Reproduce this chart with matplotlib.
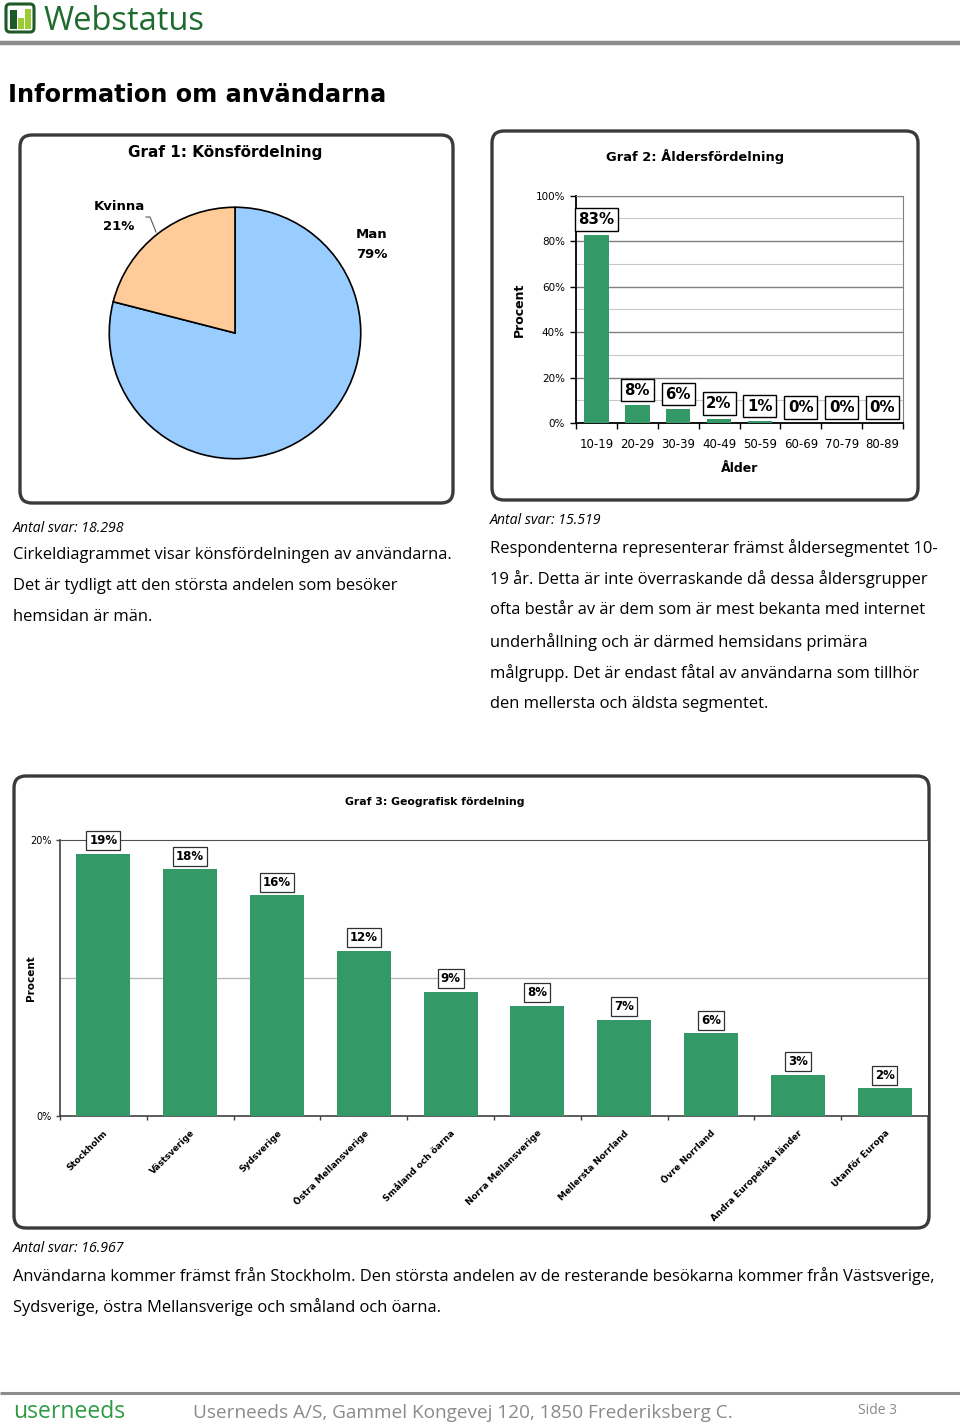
import matplotlib
matplotlib.use("Agg")
import matplotlib.pyplot as plt
from matplotlib.patches import FancyBboxPatch, Rectangle
import numpy as np

# ---------------- data ----------------
gender_labels = ["Man", "Kvinna"]
gender_values = [79, 21]

age_labels = ["10-19", "20-29", "30-39", "40-49", "50-59", "60-69", "70-79", "80-89"]
age_values = [82.8, 7.7, 6.0, 1.9, 0.7, 0.0, 0.0, 0.0]
age_yticks = [0, 20, 40, 60, 80, 100]

region_labels = ["Stockholm", "Västsverige", "Sydsverige", "Östra Mellansverige",
                 "Småland och öarna", "Norra Mellansverige", "Mellersta Norrland",
                 "Övre Norrland", "Andra Europeiska länder", "Utanför Europa"]
region_values = [19.0, 17.9, 16.0, 12.0, 9.0, 8.0, 7.0, 6.0, 3.0, 2.0]
region_yticks = [0, 20]

W, H = 960, 1427
BAR_GREEN = "#339966"
FONT = "Open Sans"

fig = plt.figure(figsize=(W / 100, H / 100), dpi=100)
fig.patch.set_facecolor("white")

bg = fig.add_axes([0, 0, 1, 1])
bg.set_xlim(0, W)
bg.set_ylim(H, 0)
bg.axis("off")


def px_axes(x, y, w, h):
    return fig.add_axes([x / W, 1 - (y + h) / H, w / W, h / H])


def rbox(x, y, w, h):
    bg.add_patch(FancyBboxPatch((x, y), w, h, boxstyle="round,pad=0,rounding_size=12",
                                fc="white", ec="#3a3a3a", lw=2.4))


# ---------------- header ----------------
bg.add_patch(FancyBboxPatch((6, 4), 28, 28, boxstyle="round,pad=0,rounding_size=4",
                            fc="white", ec="#1e5a28", lw=2.2))
bg.add_patch(Rectangle((10, 10), 7, 19, fc="#1e5a28", ec="none"))
bg.add_patch(Rectangle((18, 18), 6, 11, fc="#9acd32", ec="none"))
bg.add_patch(Rectangle((25, 9), 6, 20, fc="#9acd32", ec="none"))
bg.text(44, 21, "Webstatus", fontsize=23.5, color="#1e6b2e", family=FONT,
        va="center", ha="left")
bg.plot([0, W], [42.5, 42.5], color="#8c8c8c", lw=3.2, solid_capstyle="butt")

bg.text(8, 95, "Information om användarna", fontsize=17.3, fontweight="bold",
        family="DejaVu Sans", va="center", ha="left", color="black")

# ---------------- box 1: pie ----------------
rbox(20, 135, 433, 368)
bg.text(225, 152, "Graf 1: Könsfördelning", fontsize=11, fontweight="bold",
        family="DejaVu Sans", va="center", ha="center")

pie_ax = px_axes(235 - 127, 333 - 127, 254, 254)
pie_ax.pie(gender_values, colors=["#99ccff", "#ffcc99"], startangle=90,
           counterclock=False, wedgeprops=dict(edgecolor="black", linewidth=1.2))
pie_ax.set_xlim(-1.01, 1.01)
pie_ax.set_ylim(-1.01, 1.01)
pie_ax.set_aspect("equal")

bg.text(119, 207, gender_labels[1], fontsize=9.5, fontweight="bold", family="DejaVu Sans",
        ha="center", va="center")
bg.text(119, 227, f"{gender_values[1]}%", fontsize=9.5, fontweight="bold", family="DejaVu Sans",
        ha="center", va="center")
bg.plot([146, 150, 156], [217, 217, 232], color="#555555", lw=0.8)
bg.text(356, 235, gender_labels[0], fontsize=9.5, fontweight="bold", family="DejaVu Sans",
        ha="left", va="center")
bg.text(356, 255, f"{gender_values[0]}%", fontsize=9.5, fontweight="bold", family="DejaVu Sans",
        ha="left", va="center")

# ---------------- box 2: age ----------------
rbox(492, 131, 426, 369)
bg.text(695, 157, "Graf 2: Åldersfördelning", fontsize=9.4, fontweight="bold",
        family="DejaVu Sans", va="center", ha="center")

ax2 = px_axes(576, 195.7, 327, 227.3)
xa = np.arange(len(age_labels))
ax2.bar(xa, age_values, width=0.6, color=BAR_GREEN, zorder=3)
ax2.set_xlim(-0.5, len(age_labels) - 0.5)
ax2.set_ylim(0, 100)
ax2.set_yticks(age_yticks)
ax2.set_yticklabels([f"{v}%" for v in age_yticks], fontsize=7.5, family="DejaVu Sans")
ax2.set_yticks(np.arange(10, 100, 20), minor=True)
ax2.yaxis.grid(True, which="major", color="#808080", lw=1.0, zorder=0)
ax2.yaxis.grid(True, which="minor", color="#c8c8c8", lw=0.8, zorder=0)
ax2.set_xticks(np.arange(-0.5, len(age_labels), 1.0))
ax2.set_xticklabels([])
ax2.set_xticks(xa, minor=True)
ax2.set_xticklabels(age_labels, minor=True, fontsize=8.5, family="DejaVu Sans")
ax2.tick_params(axis="x", which="minor", length=0, pad=11)
ax2.tick_params(axis="x", which="major", length=4, width=1)
ax2.tick_params(axis="y", which="major", length=4, width=1, pad=4)
ax2.tick_params(axis="y", which="minor", length=0)
for s in ["top", "right"]:
    ax2.spines[s].set_color("#808080")
for s in ["left", "bottom"]:
    ax2.spines[s].set_color("black")
    ax2.spines[s].set_linewidth(1.3)
ax2.set_ylabel("Procent", fontsize=9, fontweight="bold", family="DejaVu Sans", labelpad=7)
ax2.set_xlabel("Ålder", fontsize=9, fontweight="bold", family="DejaVu Sans", labelpad=8)
for xi, v in zip(xa, age_values):
    ax2.annotate(f"{round(v)}%", (xi, v), xytext=(0, 11), textcoords="offset points",
                 ha="center", va="center", fontsize=10.8, fontweight="bold",
                 family="DejaVu Sans", zorder=5, annotation_clip=False,
                 bbox=dict(boxstyle="square,pad=0.25", fc="white", ec="black", lw=1.0))

# ---------------- texts under boxes 1 and 2 ----------------
bg.text(13, 528, "Antal svar: 18.298", fontsize=10.2, style="italic", family=FONT, va="center")
left_lines = ["Cirkeldiagrammet visar könsfördelningen av användarna.",
              "Det är tydligt att den största andelen som besöker",
              "hemsidan är män."]
for i, line in enumerate(left_lines):
    bg.text(13, 555 + 31 * i, line, fontsize=11.85, family=FONT, va="center")

bg.text(490, 521, "Antal svar: 15.519", fontsize=10.2, style="italic", family=FONT, va="center")
right_lines = ["Respondenterna representerar främst åldersegmentet 10-",
               "19 år. Detta är inte överraskande då dessa åldersgrupper",
               "ofta består av är dem som är mest bekanta med internet",
               "underhållning och är därmed hemsidans primära",
               "målgrupp. Det är endast fåtal av användarna som tillhör",
               "den mellersta och äldsta segmentet."]
for i, line in enumerate(right_lines):
    bg.text(490, 548 + 31.2 * i, line, fontsize=11.85, family=FONT, va="center")

# ---------------- box 3: regions ----------------
rbox(14, 776, 915, 452)
bg.text(435, 802, "Graf 3: Geografisk fördelning", fontsize=7.8, fontweight="bold",
        family="DejaVu Sans", va="center", ha="center")

ax3 = px_axes(60, 840.3, 868, 275.7)
xr = np.arange(len(region_labels))
ax3.bar(xr, region_values, width=0.62, color=BAR_GREEN, zorder=3)
ax3.set_xlim(-0.5, len(region_labels) - 0.5)
ax3.set_ylim(0, 20)
ax3.set_yticks(region_yticks)
ax3.set_yticklabels([f"{v}%" for v in region_yticks], fontsize=7, family="DejaVu Sans")
ax3.set_yticks([10], minor=True)
ax3.yaxis.grid(True, which="minor", color="#b8b8b8", lw=1.0, zorder=0)
ax3.set_xticks(np.arange(-0.5, len(region_labels), 1.0))
ax3.set_xticklabels([])
ax3.set_xticks(xr, minor=True)
ax3.set_xticklabels(region_labels, minor=True, fontsize=6.4, fontweight="bold",
                    family="DejaVu Sans", rotation=45, ha="right", va="top",
                    rotation_mode="anchor")
ax3.tick_params(axis="x", which="minor", length=0, pad=9)
ax3.tick_params(axis="x", which="major", length=3, width=1, color="#404040")
ax3.tick_params(axis="y", which="major", length=3, width=1, color="#404040", pad=3)
ax3.tick_params(axis="y", which="minor", length=0)
ax3.spines["right"].set_visible(False)
ax3.spines["top"].set_color("#505050")
for s in ["left", "bottom"]:
    ax3.spines[s].set_color("#404040")
    ax3.spines[s].set_linewidth(1.2)
ax3.set_ylabel("Procent", fontsize=7.5, fontweight="bold", family="DejaVu Sans", labelpad=-4)
for xi, v in zip(xr, region_values):
    ax3.annotate(f"{round(v)}%", (xi, v), xytext=(0, 9.5), textcoords="offset points",
                 ha="center", va="center", fontsize=8.5, fontweight="bold",
                 family="DejaVu Sans", zorder=5, annotation_clip=False,
                 bbox=dict(boxstyle="square,pad=0.25", fc="white", ec="#303030", lw=0.9))

# ---------------- text under box 3 ----------------
bg.text(13, 1249, "Antal svar: 16.967", fontsize=10.2, style="italic", family=FONT, va="center")
bottom_lines = ["Användarna kommer främst från Stockholm. Den största andelen av de resterande besökarna kommer från Västsverige,",
                "Sydsverige, östra Mellansverige och småland och öarna."]
for i, line in enumerate(bottom_lines):
    bg.text(13, 1276 + 31 * i, line, fontsize=11.85, family=FONT, va="center")

# ---------------- footer ----------------
bg.plot([0, W], [1393, 1393], color="#8c8c8c", lw=2.2, solid_capstyle="butt")
bg.text(13, 1412, "userneeds", fontsize=16.5, color="#2e9a44", family=FONT, va="center")
bg.text(193, 1413, "Userneeds A/S, Gammel Kongevej 120, 1850 Frederiksberg C.",
        fontsize=13.7, color="#8a8a8a", family=FONT, va="center")
bg.text(858, 1410, "Side 3", fontsize=10, color="#8a8a8a", family=FONT, va="center")

fig.savefig("out.png", dpi=100, facecolor="white")
